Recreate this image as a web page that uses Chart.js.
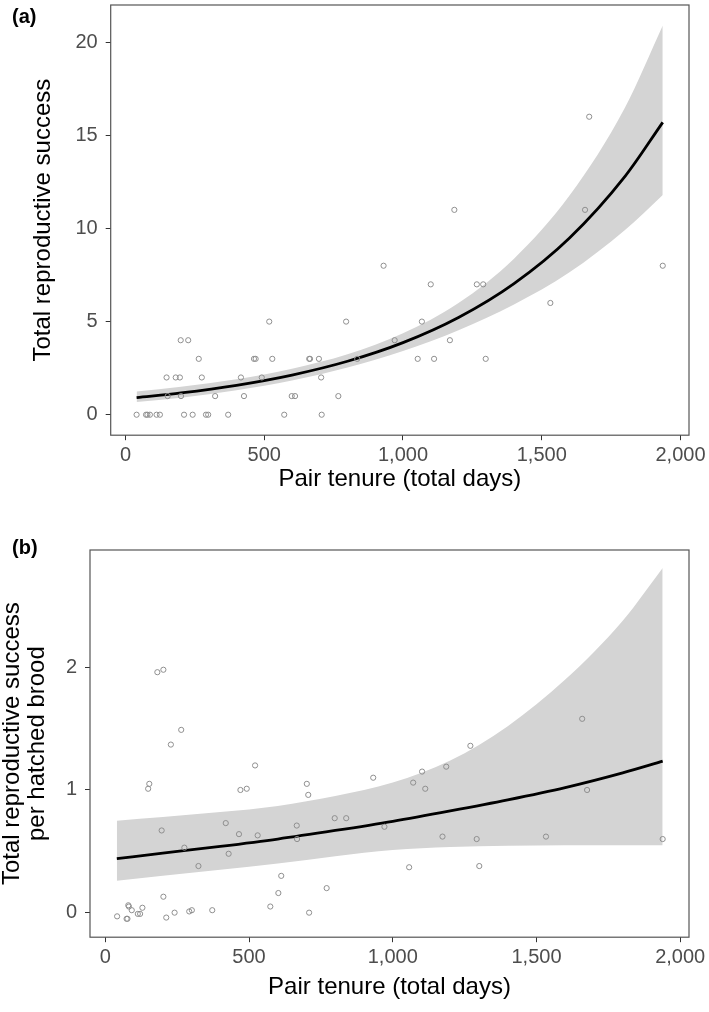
<!DOCTYPE html>
<html>
<head>
<meta charset="utf-8">
<script src="https://cdn.jsdelivr.net/npm/chart.js@4.4.0/dist/chart.umd.min.js"></script>
<style>
  body { margin: 0; background: #fff; }
  #wrap { position: relative; width: 709px; height: 1012px; }
  canvas { position: absolute; left: 0; }
  #grafikA { top: 0; }
  #grafikB { top: 500px; }
</style>
</head>
<body>
<div id="wrap">
  <canvas id="grafikA" width="709" height="500"></canvas>
  <canvas id="grafikB" width="709" height="512"></canvas>
</div>
<script>
// tick labels
var xTicks = [0, 500, 1000, 1500, 2000];
var yTicksA = [0, 5, 10, 15, 20];
var yTicksB = [0, 1, 2];

// panel (a): pair tenure vs total reproductive success
var tenureA = [40, 74, 79, 88, 112, 124, 211, 242, 290, 298, 370, 572, 707,
  152, 200, 323, 427, 599, 611, 767,
  148, 181, 196, 275, 416, 491, 705,
  264, 463, 469, 529, 662, 665, 697, 835, 1053, 1112, 1298,
  199, 226, 970, 1169,
  518, 795, 1068,
  1531,
  1100, 1266, 1289,
  930, 1936,
  1185, 1656,
  1671];
var successA = [0, 0, 0, 0, 0, 0, 0, 0, 0, 0, 0, 0, 0,
  1, 1, 1, 1, 1, 1, 1,
  2, 2, 2, 2, 2, 2, 2,
  3, 3, 3, 3, 3, 3, 3, 3, 3, 3, 3,
  4, 4, 4, 4,
  5, 5, 5,
  6,
  7, 7, 7,
  8, 8,
  11, 11,
  16];

// panel (a): fitted curve and its band
var fitDaysA = [40, 200, 400, 600, 800, 1000, 1200, 1400, 1600, 1800, 1936];
var fitA = [0.92, 1.17, 1.58, 2.13, 2.87, 3.87, 5.22, 7.04, 9.49, 12.8, 15.7];
var upperA = [1.25, 1.50, 1.90, 2.47, 3.24, 4.37, 6.00, 8.38, 11.77, 16.5, 20.9];
var lowerA = [0.68, 0.91, 1.32, 1.84, 2.54, 3.42, 4.54, 5.92, 7.65, 9.92, 11.8];

// panel (b): pair tenure vs success per hatched brood
var tenureB = [181, 202, 264, 228, 521, 153, 149, 470, 492, 701, 706, 932,
  196, 419, 465, 530, 666, 667, 798, 838, 971, 275, 429, 324, 612, 602, 770,
  202, 574, 709, 372, 292, 301, 241, 212, 129, 80, 82, 92, 113, 121, 77, 74, 41,
  1659, 1270, 1186, 1102, 1071, 1113, 1676, 1173, 1292, 1533, 1939, 1057, 1301];
var perBroodB = [1.96, 1.98, 1.49, 1.37, 1.20, 1.05, 1.01, 1.00, 1.01, 1.05, 0.96, 1.10,
  0.67, 0.73, 0.64, 0.63, 0.71, 0.60, 0.77, 0.77, 0.70, 0.53, 0.48, 0.38, 0.30, 0.16, 0.20,
  0.13, 0.05, 0.00, 0.02, 0.01, 0.02, 0.00, -0.04, 0.04, 0.06, 0.05, 0.02, -0.01, -0.01, -0.05, -0.05, -0.03,
  1.58, 1.36, 1.19, 1.15, 1.06, 1.01, 1.00, 0.62, 0.60, 0.62, 0.60, 0.37, 0.38];

// panel (b): fitted curve and its band
var fitDaysB = [40, 200, 400, 600, 800, 1000, 1200, 1400, 1600, 1800, 1939];
var fitB = [0.44, 0.485, 0.54, 0.60, 0.67, 0.745, 0.83, 0.92, 1.02, 1.14, 1.235];
var upperB = [0.75, 0.78, 0.82, 0.87, 0.95, 1.06, 1.24, 1.52, 1.90, 2.38, 2.81];
var lowerB = [0.26, 0.30, 0.35, 0.40, 0.46, 0.51, 0.535, 0.545, 0.55, 0.55, 0.55];

var huruf = "'Liberation Sans', Arial, sans-serif";
Chart.defaults.font.family = huruf;

// frame around the panel + panel letter
var bingkai = {
  id: "bingkai",
  afterDraw: function (chart, args, opts) {
    var ctx = chart.ctx;
    var a = chart.chartArea;
    ctx.save();
    ctx.strokeStyle = "#555";
    ctx.lineWidth = 1.2;
    ctx.strokeRect(a.left, a.top, a.right - a.left, a.bottom - a.top);
    ctx.fillStyle = "#000";
    ctx.font = "bold 20px " + huruf;
    ctx.textBaseline = "middle";
    ctx.fillText(opts.label, opts.x, opts.y);
    ctx.restore();
  },
};

function gabung(xs, ys) {
  return xs.map(function (x, i) {
    return { x: x, y: ys[i] };
  });
}

function dataset(days, fit, upper, lower, tx, ty) {
  return [
    { data: gabung(days, upper), showLine: true, pointRadius: 0, borderWidth: 0,
      backgroundColor: "#d4d4d4", fill: "+1", cubicInterpolationMode: "monotone", order: 2 },
    { data: gabung(days, lower), showLine: true, pointRadius: 0, borderWidth: 0,
      backgroundColor: "#d4d4d4", fill: false, cubicInterpolationMode: "monotone", order: 3 },
    { data: gabung(days, fit), showLine: true, pointRadius: 0, borderWidth: 2.8,
      borderColor: "#000", fill: false, cubicInterpolationMode: "monotone", order: 1 },
    { data: gabung(tx, ty), pointRadius: 2.6, borderWidth: 1,
      borderColor: "#8f8f8f", backgroundColor: "rgba(0,0,0,0)", order: 0 },
  ];
}

var garis = { drawOnChartArea: false, drawTicks: true, tickLength: 5, color: "#333", tickColor: "#333", lineWidth: 1 };

function sumbuX(tinggi, padJudul) {
  return {
    type: "linear", min: -53.3, max: 2030.6,
    afterBuildTicks: function (s) { s.ticks = xTicks.map(function (v) { return { value: v }; }); },
    afterFit: function (s) { s.height = tinggi; s.paddingLeft = 0; s.paddingRight = 0; },
    grid: garis,
    border: { display: false },
    ticks: { color: "#4d4d4d", font: { size: 20 }, padding: 3, maxRotation: 0, autoSkip: false,
      callback: function (v) { return v.toLocaleString("en-US"); } },
    title: { display: true, text: "Pair tenure (total days)", color: "#000",
      font: { size: 24, lineHeight: 1.2 }, padding: { top: 0, bottom: padJudul } },
  };
}

function sumbuY(tk, min, max, lebar, judul, padJudul, lh) {
  return {
    type: "linear", min: min, max: max,
    afterBuildTicks: function (s) { s.ticks = tk.map(function (v) { return { value: v }; }); },
    afterFit: function (s) { s.width = lebar; s.paddingTop = 0; s.paddingBottom = 0; },
    grid: garis,
    border: { display: false },
    ticks: { color: "#4d4d4d", font: { size: 20 }, padding: 8 },
    title: { display: true, text: judul, color: "#000",
      font: { size: 24, lineHeight: lh }, padding: { top: padJudul, bottom: 0 } },
  };
}

function opsi(padTop, sx, sy, label, lx, ly) {
  return {
    responsive: false,
    animation: false,
    devicePixelRatio: 1,
    layout: { padding: { left: 0, top: padTop, right: 20, bottom: 0 } },
    plugins: { legend: { display: false }, tooltip: { enabled: false },
      bingkai: { label: label, x: lx, y: ly } },
    scales: { x: sx, y: sy },
  };
}

new Chart(document.getElementById("grafikA").getContext("2d"), {
  type: "scatter",
  data: { datasets: dataset(fitDaysA, fitA, upperA, lowerA, tenureA, successA) },
  options: opsi(3.7, sumbuX(64.8, 6.6),
    sumbuY(yTicksA, -1.1, 22.0, 110.7, "Total reproductive success", 28.6, 1.2),
    "(a)", 12, 17),
  plugins: [bingkai],
});

new Chart(document.getElementById("grafikB").getContext("2d"), {
  type: "scatter",
  data: { datasets: dataset(fitDaysB, fitB, upperB, lowerB, tenureB, perBroodB) },
  options: opsi(50, sumbuX(74.8, 10.6),
    sumbuY(yTicksB, -0.2, 2.956, 90, ["Total reproductive success", "per hatched brood"], 0, 1.03),
    "(b)", 12, 48),
  plugins: [bingkai],
});
</script>
</body>
</html>
